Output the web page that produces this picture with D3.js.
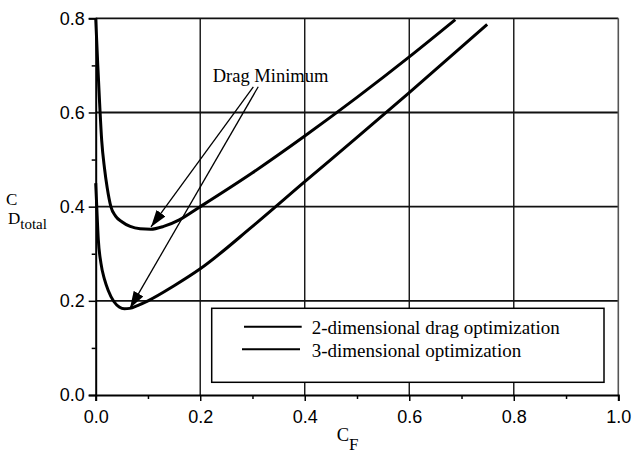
<!DOCTYPE html>
<html>
<head>
<meta charset="utf-8">
<script src="https://cdn.jsdelivr.net/npm/d3@7"></script>
<style>
  html, body { margin: 0; padding: 0; background: #fff; }
  svg { display: block; }
</style>
</head>
<body>
<svg id="chart" width="632" height="453"></svg>
<script>
// ---- Data ----
const xTicks = [0, 0.2, 0.4, 0.6, 0.8, 1.0];
const xMinorTicks = [0.1, 0.3, 0.5, 0.7, 0.9];
const yTicks = [0, 0.2, 0.4, 0.6, 0.8];
const yMinorTicks = [0.1, 0.3, 0.5, 0.7];

const seriesNames = ["2-dimensional drag optimization", "3-dimensional optimization"];

// 2-dimensional drag optimization (upper curve)
const cf2D = [0.0, 0.004, 0.0075, 0.0115, 0.017, 0.022, 0.029, 0.038, 0.05, 0.066, 0.085, 0.105, 0.13, 0.16, 0.2, 0.3, 0.4, 0.5, 0.6, 0.688];
const cd2D = [0.80, 0.70, 0.62, 0.54, 0.48, 0.44, 0.40, 0.38, 0.368, 0.358, 0.353, 0.352, 0.358, 0.372, 0.40, 0.472, 0.55, 0.632, 0.718, 0.797];

// 3-dimensional optimization (lower curve)
const cf3D = [0.0, 0.002, 0.005, 0.01, 0.017, 0.024, 0.035, 0.045, 0.055, 0.065, 0.08, 0.1, 0.15, 0.2, 0.3, 0.4, 0.5, 0.6, 0.749];
const cd3D = [0.45, 0.40, 0.33, 0.28, 0.245, 0.222, 0.198, 0.187, 0.183, 0.184, 0.19, 0.20, 0.232, 0.268, 0.358, 0.453, 0.547, 0.642, 0.787];

// Annotation "Drag Minimum": label anchor and arrows (data units)
const annoLabel = "Drag Minimum";
const annoLabelPos = [0.224, 0.664];
const arrowStarts = [[0.3016, 0.6546], [0.311, 0.6546]];
const arrowTips = [[0.1058, 0.357], [0.0656, 0.184]];

// ---- Layout ----
const svg = d3.select("#chart");
const X0 = 95.7, X1 = 618.3, Y0 = 395, Y1 = 18.3;
const x = d3.scaleLinear().domain([0, 1]).range([X0, X1]);
const y = d3.scaleLinear().domain([0, 0.8]).range([Y0, Y1]);

svg.append("rect").attr("width", 632).attr("height", 453).attr("fill", "#fff");

// Grid lines
const grid = svg.append("g");
grid.selectAll("line.vg").data([0.2, 0.4, 0.6, 0.8]).join("line")
  .attr("x1", d => x(d)).attr("x2", d => x(d))
  .attr("y1", y(0)).attr("y2", y(0.8))
  .attr("stroke", "#111").attr("stroke-width", 1.4);
grid.selectAll("line.hg").data([0.2, 0.4, 0.6]).join("line")
  .attr("x1", x(0)).attr("x2", x(1))
  .attr("y1", d => y(d)).attr("y2", d => y(d))
  .attr("stroke", "#111").attr("stroke-width", 1.8);
// top and right frame
grid.append("line").attr("x1", x(0)).attr("x2", x(1)).attr("y1", y(0.8)).attr("y2", y(0.8))
  .attr("stroke", "#111").attr("stroke-width", 1.8);
grid.append("line").attr("x1", x(1)).attr("x2", x(1)).attr("y1", y(0)).attr("y2", y(0.8))
  .attr("stroke", "#555").attr("stroke-width", 1.6);

// Axes
const tickFont = "'Liberation Sans', Arial, sans-serif";
const fmt = d3.format(".1f");

const xAxis = svg.append("g").attr("transform", `translate(0,${Y0})`)
  .call(d3.axisBottom(x).tickValues(xTicks).tickFormat(fmt).tickSize(6).tickPadding(9));
const xMinor = svg.append("g").attr("transform", `translate(0,${Y0})`)
  .call(d3.axisBottom(x).tickValues(xMinorTicks).tickFormat("").tickSize(4));
const yAxis = svg.append("g").attr("transform", `translate(${X0},0)`)
  .call(d3.axisLeft(y).tickValues(yTicks).tickFormat(fmt).tickSize(7).tickPadding(4));
const yMinor = svg.append("g").attr("transform", `translate(${X0},0)`)
  .call(d3.axisLeft(y).tickValues(yMinorTicks).tickFormat("").tickSize(4));

[xAxis, xMinor, yAxis, yMinor].forEach(g => {
  g.select(".domain").attr("stroke", "#000").attr("stroke-width", 2);
  g.selectAll(".tick line").attr("stroke", "#000").attr("stroke-width", 1.5);
  g.selectAll(".tick text").attr("fill", "#000")
    .style("font-family", tickFont).style("font-size", "18px");
});
xMinor.select(".domain").remove();
yMinor.select(".domain").remove();

// Curves
const line = d3.line().x(d => x(d[0])).y(d => y(d[1])).curve(d3.curveMonotoneX);
const data2D = cf2D.map((v, i) => [v, cd2D[i]]);
const data3D = cf3D.map((v, i) => [v, cd3D[i]]);
svg.append("path").datum(data2D).attr("d", line)
  .attr("fill", "none").attr("stroke", "#000").attr("stroke-width", 3).attr("stroke-linejoin", "round");
svg.append("path").datum(data3D).attr("d", line)
  .attr("fill", "none").attr("stroke", "#000").attr("stroke-width", 3).attr("stroke-linejoin", "round");

// Arrow marker
svg.append("defs").append("marker")
  .attr("id", "arrowhead")
  .attr("markerUnits", "userSpaceOnUse")
  .attr("viewBox", "0 0 17 11")
  .attr("refX", 17).attr("refY", 5.5)
  .attr("markerWidth", 17).attr("markerHeight", 11)
  .attr("orient", "auto")
  .append("path").attr("d", "M0,0 L17,5.5 L0,11 Z").attr("fill", "#000");

const serif = "'Liberation Serif', 'Times New Roman', serif";

// Annotation
svg.append("text")
  .attr("x", x(annoLabelPos[0])).attr("y", y(annoLabelPos[1]))
  .style("font-family", serif).style("font-size", "18.5px")
  .attr("fill", "#000").text(annoLabel);
svg.selectAll("line.arrow").data(arrowStarts).join("line")
  .attr("class", "arrow")
  .attr("x1", d => x(d[0])).attr("y1", d => y(d[1]))
  .attr("x2", (d, i) => x(arrowTips[i][0])).attr("y2", (d, i) => y(arrowTips[i][1]))
  .attr("stroke", "#000").attr("stroke-width", 1.3)
  .attr("marker-end", "url(#arrowhead)");

// Legend
const lg = svg.append("g");
lg.append("rect").attr("x", 211.7).attr("y", 308.3).attr("width", 392.3).attr("height", 74)
  .attr("fill", "#fff").attr("stroke", "#000").attr("stroke-width", 1.5);
const legendRows = [
  { y: 326.7, x1: 244, x2: 301.7 },
  { y: 349.3, x1: 242, x2: 300 }
];
legendRows.forEach((r, i) => {
  lg.append("line").attr("x1", r.x1).attr("x2", r.x2).attr("y1", r.y).attr("y2", r.y)
    .attr("stroke", "#000").attr("stroke-width", 2);
  lg.append("text").attr("x", 311.7).attr("y", r.y + 7.5)
    .style("font-family", serif).style("font-size", "19px").attr("fill", "#000")
    .text(seriesNames[i]);
});

// Axis titles (single text elements with tspans for subscripts)
const yt = svg.append("text").attr("x", 6).attr("y", 205)
  .style("font-family", serif).attr("fill", "#000");
yt.append("tspan").style("font-size", "17px").text("C");
yt.append("tspan").attr("x", 8).attr("dy", 19).style("font-size", "17px").text("D");
yt.append("tspan").attr("dy", 5).style("font-size", "15px").text("total");

const xt = svg.append("text").attr("x", 336.7).attr("y", 441)
  .style("font-family", serif).attr("fill", "#000");
xt.append("tspan").style("font-size", "18.5px").text("C");
xt.append("tspan").attr("dy", 9).style("font-size", "17px").text("F");
</script>
</body>
</html>
